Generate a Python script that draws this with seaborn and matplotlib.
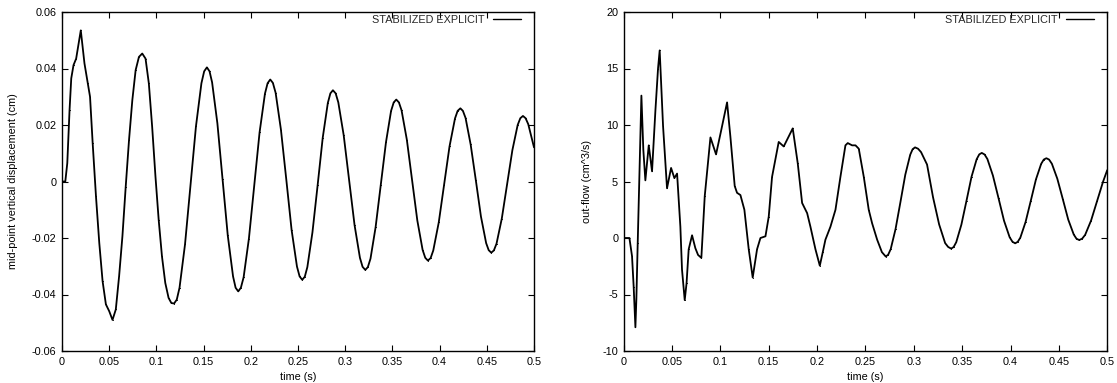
import numpy as np
import pandas as pd
import matplotlib
matplotlib.use("Agg")
import matplotlib.pyplot as plt
import seaborn as sns

# ---------------- data ----------------
series_name = "STABILIZED EXPLICIT"

disp_t = [0.0, 0.0035, 0.0056, 0.008, 0.0098, 0.0122, 0.015, 0.0199, 0.0238, 0.0273,
          0.0297, 0.0325, 0.036, 0.0395, 0.043, 0.0465, 0.05, 0.0535, 0.057, 0.0605,
          0.064, 0.0675, 0.071, 0.0745, 0.078, 0.0815, 0.085, 0.0885, 0.092, 0.0955,
          0.099, 0.1024, 0.1059, 0.1094, 0.1129, 0.1158,
          0.1187, 0.1216, 0.1245, 0.1303, 0.1361, 0.1419, 0.1477, 0.1506, 0.1535, 0.1563,
          0.1590, 0.1646, 0.1701, 0.1756, 0.1812, 0.1839, 0.1867, 0.1895, 0.1924, 0.1980,
          0.2037, 0.2093, 0.2150, 0.2178, 0.2206, 0.2234, 0.2263, 0.2319, 0.2376, 0.2432,
          0.2489, 0.2517, 0.2545, 0.2572, 0.2599, 0.2653, 0.2708, 0.2762, 0.2816, 0.2843,
          0.2870, 0.2899, 0.2927, 0.2984, 0.3042, 0.3099, 0.3156, 0.3184, 0.3213, 0.3240,
          0.3268, 0.3322, 0.3377, 0.3432, 0.3486, 0.3514, 0.3541, 0.3569, 0.3597, 0.3653,
          0.3709, 0.3764, 0.3820, 0.3848, 0.3876, 0.3905, 0.3933, 0.3991, 0.4048, 0.4105,
          0.4163, 0.4191, 0.4220, 0.4247, 0.4275, 0.4329, 0.4384, 0.4438, 0.4493, 0.4520,
          0.4547, 0.4575, 0.4603, 0.4659, 0.4715, 0.4771, 0.4827, 0.4855, 0.4883, 0.4911,
          0.4939, 0.5000]
disp_v = [0.0, 0.0, 0.0065, 0.0253, 0.0365, 0.0412, 0.0435, 0.0535, 0.0418, 0.0347,
          0.0300, 0.0135, -0.0053, -0.0218, -0.0353, -0.0435, -0.0459, -0.0490, -0.0453, -0.0335,
          -0.0194, -0.0018, 0.0147, 0.0288, 0.0394, 0.0441, 0.0453, 0.0435, 0.0347, 0.0194,
          0.0018, -0.0135, -0.0265, -0.0359, -0.0412, -0.0430,
          -0.0432, -0.0418, -0.0376, -0.0223, -0.0014, 0.0195, 0.0348, 0.0390, 0.0404, 0.0390,
          0.0351, 0.0206, 0.0008, -0.0191, -0.0336, -0.0376, -0.0389, -0.0376, -0.0339, -0.0202,
          -0.0014, 0.0174, 0.0311, 0.0348, 0.0361, 0.0349, 0.0314, 0.0184, 0.0007, -0.0171,
          -0.0301, -0.0336, -0.0348, -0.0337, -0.0303, -0.0180, -0.0013, 0.0155, 0.0278, 0.0312,
          0.0323, 0.0312, 0.0280, 0.0164, 0.0005, -0.0154, -0.0270, -0.0302, -0.0313, -0.0303,
          -0.0273, -0.0162, -0.0012, 0.0139, 0.0250, 0.0280, 0.0290, 0.0280, 0.0252, 0.0148,
          0.0005, -0.0138, -0.0242, -0.0270, -0.0280, -0.0271, -0.0244, -0.0145, -0.0011, 0.0124,
          0.0223, 0.0250, 0.0259, 0.0250, 0.0225, 0.0131, 0.0004, -0.0124, -0.0218, -0.0243,
          -0.0252, -0.0244, -0.0220, -0.0131, -0.0010, 0.0111, 0.0200, 0.0224, 0.0232, 0.0224,
          0.0203, 0.0121]

flow_t = [0.0, 0.0059, 0.0086, 0.0103, 0.0121, 0.0131, 0.0145, 0.0162, 0.0183, 0.0203,
          0.0224, 0.0259, 0.0293, 0.0328, 0.0355, 0.0372, 0.0407, 0.0448, 0.0490, 0.0524,
          0.0552, 0.0586, 0.0603, 0.0631, 0.0650, 0.0672, 0.0707, 0.0741, 0.0769, 0.0803,
          0.0838, 0.0897, 0.0955, 0.1010, 0.1069, 0.1103, 0.1148, 0.1172, 0.1207, 0.1248,
          0.1293, 0.1334, 0.1379, 0.1414, 0.1466, 0.1500, 0.1534, 0.1603, 0.1655, 0.1748,
          0.1800, 0.1845, 0.1897, 0.1931, 0.1983, 0.2028, 0.2060, 0.2086, 0.2138, 0.2190,
          0.2241, 0.2293, 0.2317, 0.2362, 0.2397, 0.2431, 0.2483, 0.2534, 0.2569, 0.2621,
          0.2670, 0.2710, 0.2735, 0.2761, 0.2811, 0.2862, 0.2912, 0.2963, 0.2988, 0.3013,
          0.3044, 0.3075, 0.3137, 0.3199, 0.3262, 0.3324, 0.3355, 0.3386, 0.3412, 0.3439,
          0.3492, 0.3545, 0.3597, 0.3650, 0.3677, 0.3703, 0.3732, 0.3761, 0.3818, 0.3876,
          0.3933, 0.3991, 0.4020, 0.4048, 0.4075, 0.4102, 0.4156, 0.4210, 0.4263, 0.4317,
          0.4344, 0.4371, 0.4399, 0.4428, 0.4484, 0.4541, 0.4597, 0.4654, 0.4682, 0.4710,
          0.4741, 0.4772, 0.4833, 0.4895, 0.4957, 0.5000]
flow_v = [0.0, 0.0, -1.6, -4.3, -7.9, -5.4, -0.4, 5.4, 12.6, 7.8,
          5.1, 8.2, 5.9, 11.3, 15.0, 16.6, 9.9, 4.4, 6.2, 5.3,
          5.7, 1.0, -2.8, -5.5, -4.0, -1.0, 0.24, -0.9, -1.5, -1.76,
          3.7, 8.9, 7.4, 9.6, 12.0, 9.0, 4.6, 4.0, 3.8, 2.5,
          -1.0, -3.5, -1.0, 0.0, 0.15, 1.9, 5.4, 8.5, 8.1, 9.7,
          6.6, 3.1, 2.2, 1.0, -1.0, -2.45, -1.2, -0.15, 1.0, 2.5,
          5.4, 8.2, 8.4, 8.2, 8.2, 7.9, 5.4, 2.5, 1.3, -0.15,
          -1.25, -1.64, -1.48, -0.99, 0.78, 3.19, 5.6, 7.37, 7.86, 8.02,
          7.9, 7.6, 6.5, 3.6, 1.2, -0.45, -0.79, -0.94, -0.80, -0.37,
          1.18, 3.3, 5.42, 6.97, 7.40, 7.53, 7.39, 6.99, 5.53, 3.53,
          1.53, 0.07, -0.33, -0.47, -0.34, 0.04, 1.42, 3.3, 5.18, 6.56,
          6.94, 7.06, 6.94, 6.57, 5.25, 3.44, 1.63, 0.31, -0.06, -0.18,
          -0.06, 0.28, 1.54, 3.26, 4.98, 6.0]

x_ticks = [0.0, 0.05, 0.1, 0.15, 0.2, 0.25, 0.3, 0.35, 0.4, 0.45, 0.5]
x_tick_labels = ["0", "0.05", "0.1", "0.15", "0.2", "0.25", "0.3", "0.35", "0.4", "0.45", "0.5"]
disp_ticks = [-0.06, -0.04, -0.02, 0.0, 0.02, 0.04, 0.06]
disp_tick_labels = ["-0.06", "-0.04", "-0.02", "0", "0.02", "0.04", "0.06"]
flow_ticks = [-10, -5, 0, 5, 10, 15, 20]
flow_tick_labels = ["-10", "-5", "0", "5", "10", "15", "20"]

# ---------------- style ----------------
sns.set_theme(style="ticks")
plt.rcParams["font.family"] = ["Liberation Sans", "DejaVu Sans"]
plt.rcParams["axes.unicode_minus"] = False
FS = 7.8

fig = plt.figure(figsize=(11.17, 3.83), dpi=100)
W, H = 1117, 383
ax1 = fig.add_axes([62 / W, 1 - 351 / H, 472 / W, 339 / H])
ax2 = fig.add_axes([623.7 / W, 1 - 351 / H, 483.5 / W, 339 / H])

df1 = pd.DataFrame({"t": disp_t, "v": disp_v, "s": series_name})
df2 = pd.DataFrame({"t": flow_t, "v": flow_v, "s": series_name})

for ax, df, ticks, labels, ylim, ylabel, ylx in [
    (ax1, df1, disp_ticks, disp_tick_labels, (-0.06, 0.06),
     "mid-point vertical displacement (cm)", -0.094),
    (ax2, df2, flow_ticks, flow_tick_labels, (-10, 20), "out-flow (cm^3/s)", -0.066),
]:
    sns.lineplot(data=df, x="t", y="v", hue="s", palette=["black"], ax=ax,
                 sort=False, estimator=None, linewidth=1.3, marker=".",
                 markersize=1.5, markeredgewidth=0)
    ax.set_xlim(0, 0.5)
    ax.set_ylim(*ylim)
    ax.set_xticks(x_ticks)
    ax.set_xticklabels(x_tick_labels)
    ax.set_yticks(ticks)
    ax.set_yticklabels(labels)
    ax.tick_params(axis="both", direction="in", length=4, width=0.8,
                   labelsize=FS, colors="black", top=True, right=True, pad=4)
    for sp in ax.spines.values():
        sp.set_visible(True)
        sp.set_linewidth(1.0)
        sp.set_color("black")
    ax.set_xlabel("time (s)", fontsize=FS, color="black")
    ax.set_ylabel(ylabel, fontsize=FS, color="black")
    ax.xaxis.set_label_coords(0.5, -0.062)
    ax.yaxis.set_label_coords(ylx, 0.5)
    leg = ax.legend(loc="upper right", bbox_to_anchor=(0.973, 0.992), frameon=False,
                    markerfirst=False, fontsize=FS, handlelength=2.6,
                    handletextpad=0.8, borderpad=0, borderaxespad=0)
    for h in leg.get_lines():
        h.set_linewidth(1.0)
    ax.grid(False)

fig.savefig("out.png", dpi=100)
